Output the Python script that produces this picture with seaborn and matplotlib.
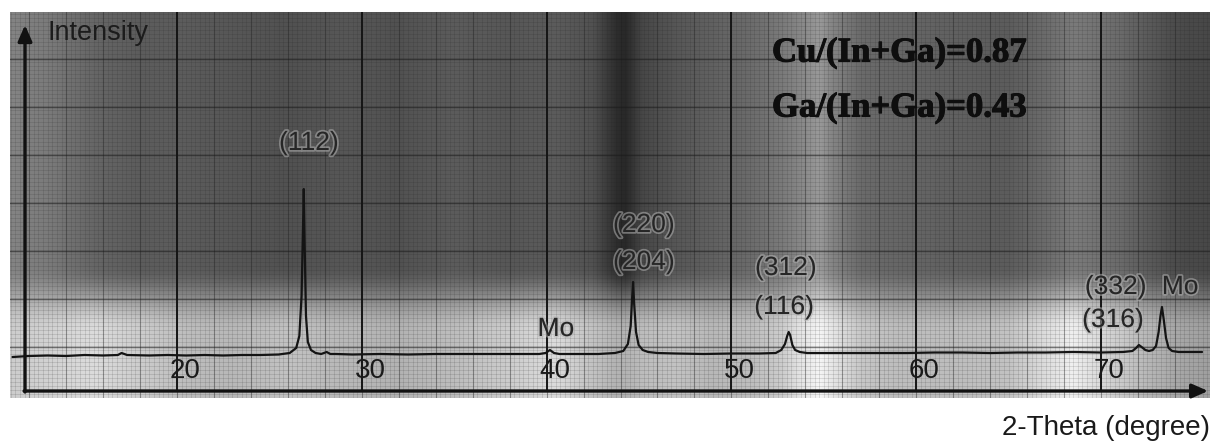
import numpy as np
import matplotlib
matplotlib.use("Agg")
import matplotlib.pyplot as plt
import matplotlib.patheffects as pe
import seaborn as sns

# XRD scan of the CIGS film: 2-theta (degree) vs. intensity (arb. units)
two_theta = [11.1, 12.0, 13.0, 14.0, 15.0, 16.0, 16.8, 17.0, 17.3, 18.5, 19.5,
             20.5, 21.5, 22.5, 23.5, 24.5, 25.5, 26.1, 26.45, 26.62, 26.74,
             26.82, 26.86, 26.91, 26.98, 27.08, 27.25, 27.5, 27.8, 28.1, 28.3,
             28.6, 29.5, 31.0, 32.5, 34.0, 35.5, 37.0, 38.5, 39.6, 39.95, 40.18,
             40.4, 40.7, 41.5, 42.8, 43.7, 44.15, 44.4, 44.55, 44.64, 44.68,
             44.74, 44.84, 44.98, 45.2, 45.5, 46.0, 47.0, 48.5, 50.0, 51.5,
             52.4, 52.7, 52.9, 53.02, 53.1, 53.18, 53.3, 53.45, 53.7, 54.1,
             55.0, 56.5, 58.0, 59.5, 61.0, 62.5, 64.0, 65.5, 67.0, 68.5, 70.0,
             71.2, 71.7, 71.9, 72.05, 72.2, 72.4, 72.6, 72.8, 72.98, 73.12,
             73.22, 73.3, 73.4, 73.52, 73.66, 73.85, 74.2, 74.8, 75.47]
intensity = [-1, 0, 0.5, 0, 1, 0.5, 1, 3, 1, 0.5, 1,
             0.5, 1, 0.5, 1, 1, 1.5, 3, 8, 20, 60,
             130, 167, 110, 40, 14, 6, 3, 2, 4, 2,
             2, 1.5, 2, 1.5, 2, 2, 2, 2, 2, 3, 6,
             3, 2, 2, 2, 3, 5, 12, 30, 62, 74,
             52, 24, 11, 6, 4, 3, 2.5, 2, 2.5, 2.5,
             3, 6, 12, 20, 24, 21, 11, 6, 4, 3,
             3, 3, 3, 3, 3.5, 3.5, 3, 3.5, 3.5, 4, 3.5,
             4, 5, 8, 11, 9, 6, 5, 6, 10, 24,
             40, 49, 36, 18, 8, 5, 4, 4, 4]

# axis tick values along 2-theta
tick_values = [20, 30, 40, 50, 60, 70]
tick_labels = ["20", "30", "40", "50", "60", "70"]

# reflection labels: text, 2-theta position, height
peak_labels = ["(112)", "(220)", "(204)", "(312)", "(116)", "Mo", "(332)", "(316)", "Mo"]
peak_label_x = [27.14, 45.27, 45.27, 52.95, 52.85, 40.5, 70.8, 70.65, 74.28]
peak_label_y = [213, 131, 94, 88, 49, 27, 69, 36, 69]

ratio_lines = ["Cu/(In+Ga)=0.87", "Ga/(In+Ga)=0.43"]

# graph-paper backdrop: tone of the sheet across the width (top / bottom part)
paper_x = [10.9, 13.0, 15.5, 18.0, 20.5, 23.0, 26.0, 29.0, 32.0, 35.0, 38.0,
           40.5, 42.5, 43.8, 44.3, 45.2, 47.0, 49.0, 51.0, 52.8, 53.6, 54.8,
           55.5, 57.0, 59.0, 62.0, 65.0, 67.0, 68.5, 69.5, 71.0, 72.5, 74.0, 76.0]
paper_top = [0.52, 0.48, 0.40, 0.36, 0.36, 0.34, 0.32, 0.34, 0.32, 0.36, 0.34,
             0.36, 0.32, 0.18, 0.16, 0.28, 0.34, 0.38, 0.42, 0.48, 0.52, 0.60,
             0.52, 0.42, 0.40, 0.38, 0.36, 0.42, 0.48, 0.46, 0.42, 0.36, 0.30, 0.28]
paper_bottom = [0.80, 0.82, 0.86, 0.80, 0.74, 0.72, 0.76, 0.72, 0.70, 0.74, 0.80,
                0.86, 0.76, 0.70, 0.70, 0.74, 0.76, 0.72, 0.74, 0.80, 0.88, 0.96,
                0.90, 0.78, 0.74, 0.74, 0.76, 0.86, 0.94, 0.88, 0.80, 0.72, 0.66, 0.62]
paper_rows = [297, 249, 201, 153, 105, 57, 9]

sns.set_theme(style="white")
plt.rcParams["font.family"] = ["Liberation Sans", "DejaVu Sans"]

W, H, DPI = 1212, 442, 100
fig = plt.figure(figsize=(W / DPI, H / DPI), dpi=DPI)
ax = fig.add_axes([10 / W, (H - 398) / H, 1200 / W, 386 / H])

x_min, x_max = 10.963, 75.90
y_min, y_max = -42, 344
ax.set_xlim(x_min, x_max)
ax.set_ylim(y_min, y_max)

# sheet tone: dark upper part fading to a light lower band
gx = np.linspace(x_min, x_max, 600)
gy = np.linspace(y_min, y_max, 200)
top_tone = np.interp(gx, paper_x, paper_top)
bot_tone = np.interp(gx, paper_x, paper_bottom)
t = np.clip((gy - 25) / (90 - 25), 0, 1)
w = t * t * (3 - 2 * t)
img = bot_tone[None, :] * (1 - w[:, None]) + top_tone[None, :] * w[:, None]
ax.imshow(img, cmap="gray", vmin=0, vmax=1, origin="lower", aspect="auto",
          extent=[x_min, x_max, y_min, y_max], zorder=0, interpolation="bilinear")

# fine ruling of the paper
for xv in np.arange(11.0, 76.0, 0.25):
    ax.axvline(xv, color="#202020", lw=0.5, alpha=0.18, zorder=1)
for yv in np.arange(y_min, y_max, 4.0):
    ax.axhline(yv, color="#202020", lw=0.5, alpha=0.18, zorder=1)
for xv in np.arange(12.0, 76.0, 2.0):
    ax.axvline(xv, color="#202020", lw=0.8, alpha=0.35, zorder=1)
for yv in paper_rows:
    ax.axhline(yv, color="#1a1a1a", lw=1.0, alpha=0.55, zorder=1)
for xv in tick_values:
    ax.plot([xv, xv], [-35, y_max], color="#151515", lw=1.4, zorder=2)

# diffraction pattern
sns.lineplot(x=two_theta, y=intensity, ax=ax, color="#141414", linewidth=1.6,
             zorder=4, estimator=None, sort=False)

# arrowed axes
ax_x0 = 11.775
ax.annotate("", xy=(75.8, -35), xytext=(ax_x0 - 0.05, -35),
            arrowprops=dict(arrowstyle="-|>,head_length=0.8,head_width=0.35",
                            color="#111111", lw=2.4, shrinkA=0, shrinkB=0), zorder=5)
ax.annotate("", xy=(ax_x0, 331), xytext=(ax_x0, -36),
            arrowprops=dict(arrowstyle="-|>,head_length=0.8,head_width=0.35",
                            color="#111111", lw=2.4, shrinkA=0, shrinkB=0), zorder=5)

for v, lab in zip(tick_values, tick_labels):
    ax.text(v + 0.45, -15, lab, ha="center", va="center", fontsize=20,
            color="#1a1a1a", zorder=6)

halo = [pe.withStroke(linewidth=2.5, foreground=(0.7, 0.7, 0.7, 0.55))]
for lab, px, py in zip(peak_labels, peak_label_x, peak_label_y):
    ax.text(px, py, lab, ha="center", va="center", fontsize=19,
            color="#262626", zorder=6, path_effects=halo)

for i, line in enumerate(ratio_lines):
    fig.text(772 / W, 1 - (53 + 55 * i) / H, line, ha="left", va="center",
             fontsize=25, fontweight="bold", family="Liberation Serif",
             color="#0e0e0e",
             path_effects=[pe.withStroke(linewidth=0.8, foreground="#0e0e0e")])

fig.text(47 / W, 1 - 33 / H, "Intensity", ha="left", va="center",
         fontsize=19.5, color="#1c1c1c")
fig.text(1210 / W, 1 - 428 / H, "2-Theta (degree)", ha="right", va="center",
         fontsize=20, color="#1a1a1a")

ax.set_xticks([])
ax.set_yticks([])
for s in ax.spines.values():
    s.set_visible(False)
ax.set_xlabel("")
ax.set_ylabel("")

fig.savefig("out.png", dpi=DPI, facecolor="white")
